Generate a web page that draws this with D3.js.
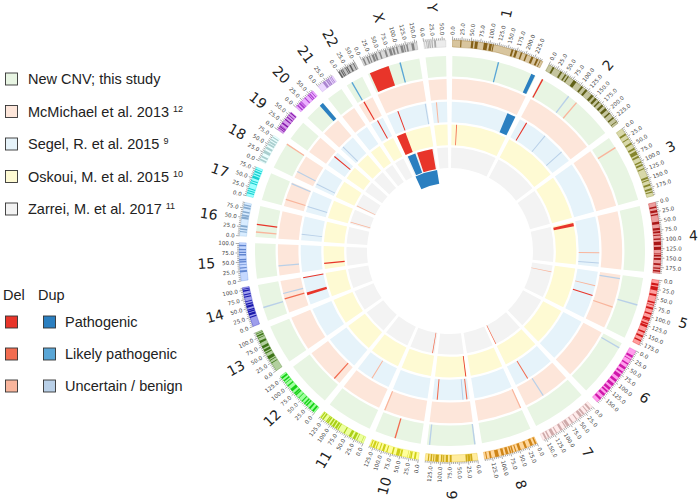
<!DOCTYPE html>
<html><head><meta charset="utf-8">
<script src="https://cdn.jsdelivr.net/npm/d3@7"></script>
<style>body{margin:0;background:#fff} svg{display:block}</style>
</head><body>
<svg id="c" width="700" height="500"></svg>
<script>
// ---------------- data ----------------
const chromosomes = ["1","2","3","4","5","6","7","8","9","10","11","12","13","14","15","16","17","18","19","20","21","22","X","Y"];
const chromSizes = [249.25,243.2,198.0,191.15,180.9,171.1,159.1,146.4,141.2,135.5,135.0,133.9,115.2,107.3,102.5,90.4,81.2,78.1,59.1,63.0,48.1,51.3,155.3,59.4];
const chromColors = ["#996600","#666600","#99991E","#CC0000","#FF0000","#FF00CC","#FFCCCC","#FF9900","#FFCC00","#FFFF00","#CCFF00","#00FF00","#358000","#0000CC","#6699FF","#99CCFF","#00FFFF","#CCFFFF","#9900CC","#CC33FF","#CC99FF","#666666","#999999","#CCCCCC"];
const chromBands = [
 [[21,24],[50,56],[60,68],[84,94],[99,106],[108,111],[160,165],[170,176],[186,190],[200,204],[216,222],[231,236],[241,243]],
 [[12,17],[36,41],[50,54],[59,62],[78,87],[104,109],[118,124],[139,146],[152,158],[165,169],[177,183],[190,197],[206,210],[222,226],[236,238]],
 [[15,20],[30,33],[44,49],[60,65],[70,80],[84,89],[100,104],[108,113],[120,123],[145,150],[153,156],[165,170],[177,182],[186,189]],
 [[11,15],[21,27],[31,35],[52,59],[69,75],[78,83],[87,90],[97,101],[106,115],[120,128],[138,140],[142,146],[150,155],[164,169],[176,179],[183,187]],
 [[9,15],[18,28],[38,43],[59,63],[67,69],[75,80],[90,94],[103,109],[110,112],[118,122],[124,130],[142,146],[154,159],[167,171]],
 [[15,21],[26,28],[39,43],[51,58],[65,70],[75,84],[92,99],[105,113],[119,126],[130,135],[141,148],[156,162]],
 [[7,12],[17,20],[28,33],[36,43],[52,55],[66,70],[78,86],[88,91],[100,106],[117,120],[125,133],[140,144],[148,153]],
 [[2,6],[12,19],[29,35],[46,53],[59,62],[67,71],[73,77],[81,88],[93,100],[107,117],[127,132],[139,142]],
 [[14,19],[20,27],[28,32],[70,75],[80,86],[90,93],[95,99],[105,114],[117,120],[123,127],[131,134]],
 [[7,12],[18,22],[23,25],[29,30],[45,50],[52,61],[69,73],[85,88],[94,100],[105,108],[115,118],[121,127],[130,133]],
 [[5,6],[18,20],[24,31],[36,43],[56,59],[75,78],[80,86],[89,95],[98,103],[107,111],[112,115],[123,127],[130,133]],
 [[4,9],[15,20],[27,31],[34,38],[44,47],[57,59],[67,71],[72,76],[82,90],[99,103],[110,112],[116,120],[125,130]],
 [[23,25],[31,33],[36,45],[53,56],[59,65],[69,76],[85,91],[98,100],[103,107],[110,112]],
 [[24,27],[31,37],[39,43],[44,47],[52,58],[60,64],[68,70],[80,83],[86,89],[96,100],[102,104]],
 [[23,28],[33,36],[42,44],[49,53],[55,59],[68,72],[75,78],[82,86],[93,97]],
 [[10,13],[16,20],[24,29],[46,52],[53,58],[63,67],[74,79],[82,85]],
 [[7,10],[13,16],[19,22],[35,38],[41,44],[50,57],[60,63],[67,71],[74,76]],
 [[2,7],[11,16],[24,32],[37,43],[48,53],[55,60],[63,67],[71,74]],
 [[5,7],[9,12],[13,14],[20,24],[33,36],[41,44],[48,50],[55,58]],
 [[5,9],[12,17],[18,20],[21,22],[33,36],[45,48],[50,53],[57,59]],
 [[16,23],[26,30],[31,35],[38,40],[42,44]],
 [[0,4],[7,10],[12,14],[21,23],[25,28],[34,38],[45,47]],
 [[4,8],[15,19],[22,25],[30,36],[38,43],[51,55],[66,71],[78,85],[88,93],[98,102],[110,117],[119,122],[126,130],[140,147]],
 [[2,3],[7,9],[11,13],[15,18],[21,24],[28,33]]
];
const tickStep = 25, minorStep = 5;

const trackNames = ["New CNV; this study","McMichael et al. 2013","Segel, R. et al. 2015","Oskoui, M. et al. 2015","Zarrei, M. et al. 2017"];
const trackRefs = ["","12","9","10","11"];
const trackColors = ["#e8f5e3","#fde6da","#e6f3fa","#fefad3","#f3f3f3"];

const cnvClasses = ["Pathogenic","Likely pathogenic","Uncertain / benign"];
const delColors = ["#e8352a","#f26c50","#f9b59c"];
const dupColors = ["#2b7fc0","#5aa6d6","#b9d0e8"];

// [chromosome, start Mb, end Mb, type]
const cnvNew = [
 ["1",134,135,"dup_lp"],["1",235,247,"dup_p"],["2",3,5,"del_p"],["2",93,94,"dup_u"],["2",122,123,"del_u"],
 ["3",33,34,"del_u"],["5",79,80,"dup_u"],["6",14,15,"dup_u"],["9",2,3,"dup_u"],["9",133,134,"dup_u"],
 ["10",75,76,"del_lp"],["14",40,41,"dup_u"],["16",14,15,"del_u"],["16",36,37,"del_p"],["18",77,78,"del_u"],
 ["20",50,62,"dup_p"],["22",17,18,"dup_lp"],["X",6,64,"del_p"],["X",98,99,"dup_lp"]
];
const cnvMcMichael = [
 ["5",12,13,"dup_u"],["5",108,109,"del_u"],["7",94,95,"dup_u"],["8",1,2,"del_u"],["10",133,134,"del_u"],
 ["12",22,23,"del_lp"],["14",47,48,"del_lp"],["14",65,66,"dup_u"],["15",31,32,"dup_u"],["17",22,23,"del_u"],
 ["17",76,78,"dup_u"],["18",21,22,"dup_u"],["22",19,20,"del_p"]
];
const cnvSegel = [
 ["1",215,248,"dup_p"],["2",28,29,"del_p"],["2",113,114,"dup_u"],["2",200,201,"dup_u"],["4",137,138,"del_u"],
 ["4",176,177,"dup_u"],["5",53,54,"del_u"],["5",91,92,"del_p"],["7",108,109,"del_lp"],["9",10,11,"del_lp"],
 ["9",25,26,"dup_u"],["9",122,123,"del_lp"],["11",70,71,"del_u"],["14",37,47,"del_p"],["14",104,105,"del_p"],
 ["16",22,23,"dup_u"],["17",21,22,"dup_u"],["18",13,14,"dup_u"],["19",40,41,"del_p"],["20",11,12,"dup_u"],
 ["22",28,29,"del_p"],["X",43,44,"del_p"],["X",150,151,"dup_u"],["Y",19,20,"del_u"]
];
const cnvOskoui = [
 ["1",22,23,"del_lp"],["4",6,20,"del_p"],["9",3,5,"del_p"],["15",22,28,"del_p"],["X",1,42,"del_p"]
];
const cnvZarrei = [
 ["5",35,36,"del_u"],["7",158,159,"del_lp"],["10",10,11,"del_lp"],["17",9,10,"del_u"],["18",5,6,"del_u"],
 ["X",8,52,"dup_p"],["X",62,148,"del_p"]
];
const cnvZarreiStacked = [["X",0,155,"dup_p"]];
const trackData = [cnvNew, cnvMcMichael, cnvSegel, cnvOskoui, cnvZarrei];

// ---------------- drawing ----------------
const svg = d3.select("#c");
const cx = 450, cy = 251;
const g = svg.append("g").attr("transform", `translate(${cx},${cy})`);
const gapDeg = 1.85, startDeg = 0.7, minW = 0.42;
const total = d3.sum(chromSizes);
const cum = d3.cumsum([0, ...chromSizes]);
const genome = d3.scaleLinear().domain([0, total]).range([0, 360 - chromosomes.length * gapDeg]);
const chrIdx = new Map(chromosomes.map((c, i) => [c, i]));
const angleDeg = (chr, mb) => { const i = chrIdx.get(chr); return startDeg + i * gapDeg + genome(cum[i] + mb); };
const rad = d => d * Math.PI / 180;
const arc = d3.arc();
const trackScale = d3.scaleBand().domain(d3.range(5)).range([195, 83]).paddingInner(0.1);
const colorOf = t => { const [k, c] = t.split("_"); const ci = {p:0, lp:1, u:2}[c]; return k === "del" ? delColors[ci] : dupColors[ci]; };

function cnvArc(chr, s, e, r0, r1) {
  let a0 = angleDeg(chr, s), a1 = angleDeg(chr, e);
  if (a1 - a0 < minW) { const m = (a0 + a1) / 2; a0 = m - minW / 2; a1 = m + minW / 2; }
  return arc({innerRadius: r0, outerRadius: r1, startAngle: rad(a0), endAngle: rad(a1)});
}

// track backgrounds
d3.range(5).forEach(t => {
  const r0 = trackScale(t), r1 = r0 + trackScale.bandwidth();
  g.append("g").selectAll("path").data(chromosomes).join("path")
    .attr("d", (c, i) => arc({innerRadius: r0, outerRadius: r1, startAngle: rad(angleDeg(c, 0)), endAngle: rad(angleDeg(c, chromSizes[i]))}))
    .attr("fill", trackColors[t]);
});
// CNV marks
trackData.forEach((rows, t) => {
  const r0 = trackScale(t), r1 = r0 + trackScale.bandwidth();
  g.append("g").selectAll("path").data(rows).join("path")
    .attr("d", d => cnvArc(d[0], d[1], d[2], r0, r1))
    .attr("fill", d => colorOf(d[3]));
});
{
  const r1 = trackScale(4) - 1, r0 = r1 - 14;
  g.append("g").selectAll("path").data(cnvZarreiStacked).join("path")
    .attr("d", d => cnvArc(d[0], d[1], d[2], r0, r1))
    .attr("fill", d => colorOf(d[3]));
}

// ideogram
const ideoIn = 204, ideoOut = 211;
const ideo = g.append("g");
chromosomes.forEach((c, i) => {
  const col = chromColors[i];
  ideo.append("path")
    .attr("d", arc({innerRadius: ideoIn, outerRadius: ideoOut, startAngle: rad(angleDeg(c, 0)), endAngle: rad(angleDeg(c, chromSizes[i]))}))
    .attr("fill", col).attr("fill-opacity", 0.38);
  ideo.append("g").selectAll("path").data(chromBands[i]).join("path")
    .attr("d", b => arc({innerRadius: ideoIn, outerRadius: ideoOut, startAngle: rad(angleDeg(c, b[0])), endAngle: rad(angleDeg(c, b[1]))}))
    .attr("fill", d3.color(col).darker(0.7)).attr("fill-opacity", 0.85);
  ideo.append("path")
    .attr("d", arc({innerRadius: ideoIn, outerRadius: ideoOut, startAngle: rad(angleDeg(c, 0)), endAngle: rad(angleDeg(c, chromSizes[i]))}))
    .attr("fill", "none").attr("stroke", d3.color(col).darker(0.3)).attr("stroke-opacity", 0.6).attr("stroke-width", 0.5);
});

// ticks and labels
function place(sel, deg, r, anchor) {
  const a = ((deg % 360) + 360) % 360;
  const x = r * Math.sin(rad(a)), y = -r * Math.cos(rad(a));
  const right = a < 180;
  sel.attr("transform", `translate(${x.toFixed(2)},${y.toFixed(2)}) rotate(${(right ? a - 90 : a + 90).toFixed(2)})`)
     .attr("text-anchor", anchor || (right ? "start" : "end"))
     .attr("dy", "0.35em");
}
const tickG = g.append("g").attr("stroke", "#555").attr("stroke-width", 0.5);
const tickLab = g.append("g").attr("font-family", "DejaVu Sans, sans-serif").attr("font-size", 5.5).attr("fill", "#444");
chromosomes.forEach((c, i) => {
  for (let mb = 0; mb <= chromSizes[i]; mb += minorStep) {
    const a = rad(angleDeg(c, mb));
    const major = mb % tickStep === 0;
    const r2 = ideoOut + (major ? 3.5 : 2);
    tickG.append("line")
      .attr("x1", ideoOut * Math.sin(a)).attr("y1", -ideoOut * Math.cos(a))
      .attr("x2", r2 * Math.sin(a)).attr("y2", -r2 * Math.cos(a));
    if (major) {
      tickLab.append("text").text(mb.toFixed(1)).call(place, angleDeg(c, mb), ideoOut + 5);
    }
  }
  g.append("text").text(c)
    .attr("font-family", "DejaVu Sans, sans-serif").attr("font-size", 14).attr("fill", "#222")
    .call(place, angleDeg(c, chromSizes[i] / 2), 244, "middle");
});

// ---------------- legend ----------------
const leg = svg.append("g").attr("font-family", "Liberation Sans, Arial, sans-serif").attr("fill", "#222");
const legY = d3.scalePoint().domain(d3.range(5)).range([79, 209]);
trackNames.forEach((name, i) => {
  const y = legY(i);
  leg.append("rect").attr("x", 5.5).attr("y", y - 6).attr("width", 12).attr("height", 12)
    .attr("fill", trackColors[i]).attr("stroke", "#333").attr("stroke-width", 0.9);
  const t = leg.append("text").attr("x", 28).attr("y", y + 5).attr("font-size", 14.5).text(name);
  if (trackRefs[i]) t.append("tspan").attr("dx", 4).attr("dy", -5).attr("font-size", 9).text(trackRefs[i]);
});
leg.append("text").attr("x", 3).attr("y", 300).attr("font-size", 14.5).text("Del");
leg.append("text").attr("x", 38).attr("y", 300).attr("font-size", 14.5).text("Dup");
const clsY = d3.scalePoint().domain(d3.range(3)).range([322, 386]);
cnvClasses.forEach((name, i) => {
  const y = clsY(i);
  leg.append("rect").attr("x", 5.5).attr("y", y - 6).attr("width", 12).attr("height", 12)
    .attr("fill", delColors[i]).attr("stroke", "#333").attr("stroke-width", 0.9);
  leg.append("rect").attr("x", 43.5).attr("y", y - 6).attr("width", 12).attr("height", 12)
    .attr("fill", dupColors[i]).attr("stroke", "#333").attr("stroke-width", 0.9);
  leg.append("text").attr("x", 65).attr("y", y + 5).attr("font-size", 14.5).text(name);
});
</script>
</body></html>
